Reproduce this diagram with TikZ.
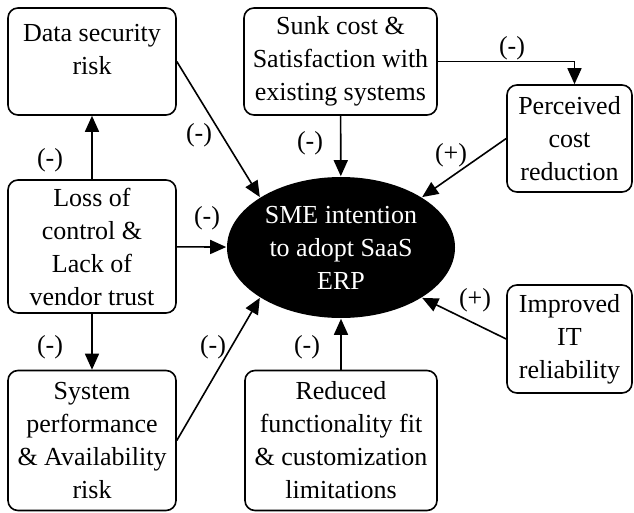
\documentclass[tikz,border=0pt]{standalone}
\usepackage{fontspec}
\setmainfont{Liberation Serif}
\usepackage{tikz}
\usetikzlibrary{arrows.meta,shapes.geometric}

\begin{document}
\begin{tikzpicture}[x=1pt,y=-1pt,
      -{Triangle[length=16pt,width=14pt]}, line width=1.6pt,
      every node/.append style={font=\fontsize{26}{33}\selectfont,inner sep=0pt},
      factor/.style={draw,rounded corners=10pt,align=center,line width=1.6pt},
      sign/.style={}]
    \useasboundingbox (0,0) rectangle (634,513);
    % boxes
    \node (data) [factor,minimum width=168pt,minimum height=107pt] at (92,61.5) {Data security\\risk\\[-9pt]\mbox{}};
    \node (sunk) [factor,minimum width=193pt,minimum height=107pt] at (340.5,61.5) {Sunk cost \&\\Satisfaction with\\existing systems};
    \node (perceived) [factor,minimum width=125pt,minimum height=107pt] at (569.5,138.5) {Perceived\\cost\\reduction};
    \node (loss) [factor,minimum width=168pt,minimum height=133pt] at (92,246.5) {Loss of\\control \&\\Lack of\\vendor trust};
    \node (sme) [ellipse,fill=black,text=white,align=center,minimum width=228pt,minimum height=141pt] at (341,247.5) {SME intention\\to adopt SaaS\\ERP};
    \node (improved) [factor,minimum width=125pt,minimum height=108pt] at (569.5,339) {Improved\\IT\\reliability};
    \node (system) [factor,minimum width=168pt,minimum height=140pt] at (92,440.5) {System\\performance\\\& Availability\\risk};
    \node (reduced) [factor,minimum width=192pt,minimum height=140pt] at (341,440.5) {Reduced\\functionality fit\\\& customization\\limitations};
    % links
    \draw (loss) -- (data);
    \draw (loss) -- (system);
    \draw (loss) -- (sme);
    \draw (data.east) -- (sme.north west);
    \draw (sunk) -- (sme);
    \draw (sunk.east) -| ([xshift=5pt]perceived.north);
    \draw (perceived.west) -- (sme.north east);
    \draw (improved.west) -- (sme.south east);
    \draw (system.east) -- (sme.south west);
    \draw (reduced) -- (sme);
    % signs
    \node (s1) [sign] at (50,160) {(-)};
    \node (s2) [sign] at (199,135) {(-)};
    \node (s3) [sign] at (207,218) {(-)};
    \node (s4) [sign] at (310,143) {(-)};
    \node (s5) [sign] at (512,48) {(-)};
    \node (s6) [sign] at (451,155) {(+)};
    \node (s7) [sign] at (475,300) {(+)};
    \node (s8) [sign] at (50,347) {(-)};
    \node (s9) [sign] at (213,347) {(-)};
    \node (s10) [sign] at (307,347) {(-)};
\end{tikzpicture}
\end{document}
